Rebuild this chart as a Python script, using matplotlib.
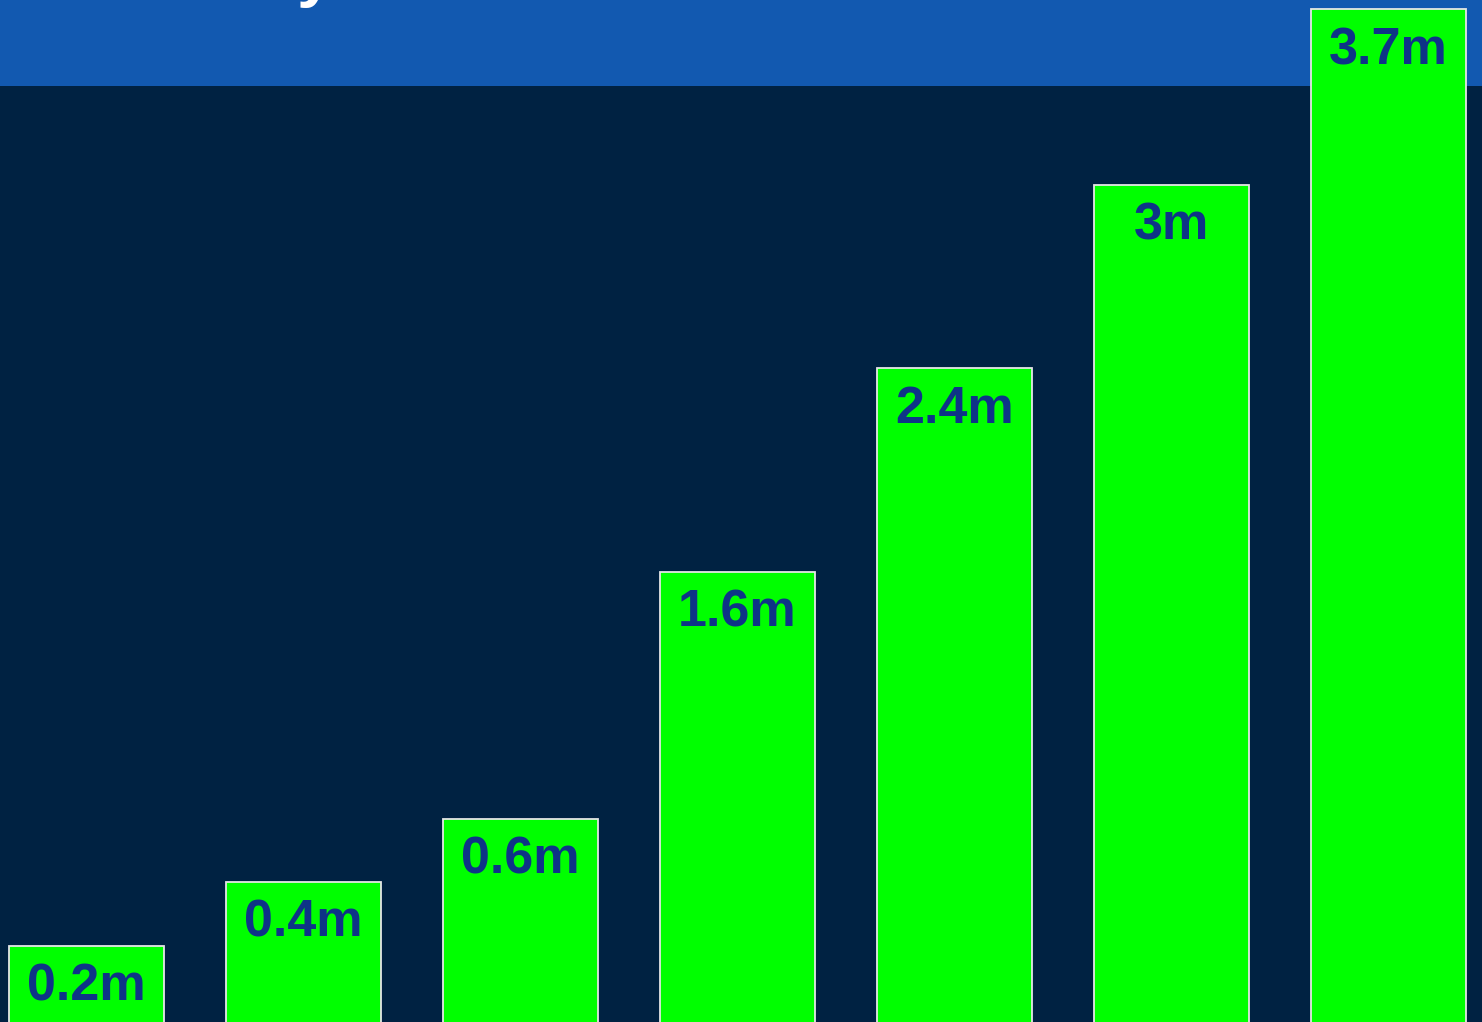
import matplotlib
matplotlib.use("Agg")
import matplotlib.pyplot as plt
from matplotlib.patches import Rectangle

# Data (labels as shown)
categories = ["1", "2", "3", "4", "5", "6", "7"]
values = [0.205, 0.444, 0.679, 1.601, 2.362, 3.045, 3.70]
labels = ["0.2m", "0.4m", "0.6m", "1.6m", "2.4m", "3m", "3.7m"]

W, H, DPI = 1482, 1022, 100
fig = plt.figure(figsize=(W / DPI, H / DPI), dpi=DPI)
fig.patch.set_facecolor("#002242")

# top blue band
band = Rectangle((0, 1 - 86 / H), 1, 86 / H, transform=fig.transFigure,
                 facecolor="#1259B0", edgecolor="none", zorder=-5)
fig.patches.append(band)

# clipped title fragment (mostly above the visible area)
fig.text(296 / W, 1 + 6 / H, "y", color="white", fontsize=48, fontweight="bold",
         family="Liberation Sans", ha="left", va="baseline")

ax = fig.add_axes([0, 0, 1, 1])
ax.set_facecolor("none")
ylo, yhi = -0.078, 3.735
base = ylo - 0.05  # bars continue below the visible area
x = list(range(len(categories)))
bars = ax.bar(x, [v - base for v in values], bottom=base, width=0.714,
              color="#00FF00", edgecolor="#E6E6E6", linewidth=1.3, zorder=2)
ax.set_xlim(-0.399, 6.431)
ax.set_ylim(ylo, yhi)
ax.axis("off")

for xi, v, lab in zip(x, values, labels):
    ax.annotate(lab, (xi, v), xytext=(0, -12), textcoords="offset points",
                ha="center", va="top", color="#0E3487", fontsize=37.5,
                fontweight="bold", family="Liberation Sans", zorder=3)

fig.savefig("out.png", dpi=DPI, facecolor=fig.get_facecolor())
